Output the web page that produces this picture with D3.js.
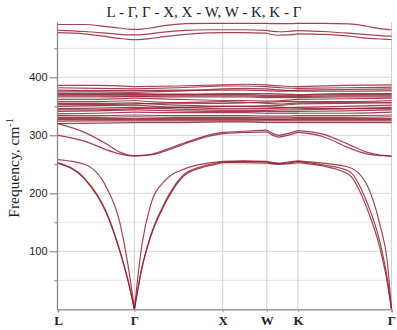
<!DOCTYPE html>
<html><head><meta charset="utf-8">
<script src="https://d3js.org/d3.v7.min.js"></script>
<style>body{margin:0;background:#fff}svg{display:block}</style>
</head><body>
<svg id="chart" width="397" height="330"></svg>
<script>
// High-symmetry points
const symLabels = ["L", "Γ", "X", "W", "K", "Γ"];
const symK = [0, 0.866, 1.866, 2.366, 2.72, 3.78];
const yTicks = [100, 200, 300, 400];
const yMinor = [50, 150, 250, 350, 450];
const title = "L - Γ, Γ - X, X - W, W - K, K - Γ";

// k grid for acoustic / low optic / top bands
const kA = [0, 0.3, 0.55, 0.7, 0.8, 0.866, 0.95, 1.05, 1.2, 1.45, 1.7, 1.866, 2.1, 2.366, 2.5, 2.6, 2.72, 3.0, 3.3, 3.5, 3.65, 3.73, 3.78];
const ac1 = [252, 225, 165, 100, 45, 0, 70, 125, 178, 233, 247, 253, 253, 252, 250, 251, 253, 247, 232, 175, 105, 48, 0];
const ac2 = [252.5, 226, 167, 102, 46, 0, 71, 127, 181, 235, 249, 254, 255, 254, 251, 252, 255, 249, 238, 185, 115, 55, 0];
const ac3 = [258, 250, 210, 150, 70, 0, 110, 180, 220, 243, 252, 255, 256, 255, 252, 254, 256, 252, 245, 215, 145, 85, 0];
const op1 = [300, 290, 275, 268, 265, 264, 265, 266, 272, 286, 298, 303, 305, 306, 297, 300, 305, 298, 278, 268, 265, 264.5, 264];
const op2 = [320, 305, 285, 271, 266, 265, 265.5, 267, 274, 288, 300, 305, 307, 309, 300, 303, 308, 302, 284, 271, 266, 265, 264];
const top1 = [491, 491, 487.5, 485, 483, 482.5, 483, 485, 489, 492.5, 493, 493, 493, 493, 492.5, 492.5, 493, 493, 492, 488, 484, 482.5, 482];
const top2 = [481, 479, 476, 474, 473, 473, 473.5, 475, 478, 481, 482, 482, 482, 481, 478.5, 479, 480.5, 479, 476, 473.5, 472, 471, 471];
const top3 = [477, 475, 470, 467, 465.5, 465, 465.5, 467, 470, 474, 476.5, 477, 477, 476, 472.5, 473, 475, 474, 471, 467.5, 466, 465.5, 465];

// coarser k grid for the dense optic bands
const kD = [0, 0.45, 0.866, 1.35, 1.866, 2.12, 2.366, 2.54, 2.72, 3.25, 3.78];
const band1  = [386, 386, 384, 385, 387, 388, 387, 385, 384, 386, 387];
const band2  = [382, 381, 380, 382, 385, 385, 384, 382, 381, 382, 383];
const band3  = [378, 377, 377, 378, 378, 378, 377, 376, 378, 379, 380];
const band4  = [372, 372, 372, 371, 372, 372, 372, 371, 370, 372, 372];
const band5  = [370, 370, 370, 370, 370, 370, 369, 369, 369, 370, 370];
const band6  = [368, 368, 368, 368, 368, 368, 367, 367, 367, 368, 368];
const band7  = [366, 366, 367, 366, 366, 366, 365, 365, 365, 366, 366];
const band8  = [362, 362, 364, 362, 360, 360, 359, 360, 362, 363, 364];
const band9  = [358, 358, 360, 356, 355, 356, 357, 358, 358, 358, 360];
const band10 = [355, 355, 356, 352, 350, 350, 351, 352, 354, 355, 356];
const band11 = [350, 351, 352, 348, 346, 346, 346, 347, 348, 350, 352];
const band12 = [346, 347, 348, 345, 343, 343, 343, 344, 344, 346, 348];
const band13 = [341, 342, 344, 342, 341, 341, 341, 341, 341, 342, 344];
const band14 = [337, 338, 340, 339, 339, 339, 338, 338, 338, 338, 340];
const band15 = [331, 331, 332, 331, 331, 331, 330, 330, 331, 331, 332];
const band16 = [329, 329, 329, 329, 329, 329, 328, 328, 329, 329, 329];
const band17 = [327, 327, 327, 327, 327, 327, 327, 327, 327, 327, 327];
const band18 = [324.5, 325, 325, 325, 325, 325, 325, 325, 325, 325, 325];
const band19 = [320, 321, 322, 322, 323, 323, 322, 322, 322, 322, 322];
const band20 = [375, 375, 374, 376, 380, 381, 380, 378, 376, 376, 377];
const band21 = [353, 353, 354, 356, 358, 357, 355, 354, 356, 357, 357];
const band22 = [334, 334, 335, 334, 334, 334, 333, 333, 334, 334, 335];
const band23 = [344, 344, 346, 348, 350, 350, 349, 348, 347, 346, 346];

const bands = [
  [kA, ac1], [kA, ac2], [kA, ac3], [kA, op1], [kA, op2],
  [kA, top1], [kA, top2], [kA, top3],
  [kD, band1], [kD, band2], [kD, band3], [kD, band4], [kD, band5], [kD, band6], [kD, band7],
  [kD, band8], [kD, band9], [kD, band10], [kD, band11], [kD, band12], [kD, band13], [kD, band14],
  [kD, band15], [kD, band16], [kD, band17], [kD, band18], [kD, band19],
  [kD, band20], [kD, band21], [kD, band22], [kD, band23]
];

const svg = d3.select("#chart");
const x = d3.scaleLinear().domain([0, 3.78]).range([58, 391.5]);
const y = d3.scaleLinear().domain([0, 500]).range([309.3, 19.3]);

// grid
const g = svg.append("g");
g.selectAll(".hm").data(yMinor).join("line")
  .attr("x1", x(0)).attr("x2", x(3.78)).attr("y1", d => y(d)).attr("y2", d => y(d))
  .attr("stroke", "#e6e6e6").attr("stroke-width", 1);
g.selectAll(".hj").data(yTicks).join("line")
  .attr("x1", x(0)).attr("x2", x(3.78)).attr("y1", d => y(d)).attr("y2", d => y(d))
  .attr("stroke", "#d8d8d8").attr("stroke-width", 1);
g.selectAll(".v").data(symK.slice(1)).join("line")
  .attr("x1", d => x(d)).attr("x2", d => x(d)).attr("y1", y(495)).attr("y2", y(0))
  .attr("stroke", "#d0d0d0").attr("stroke-width", 1);

// bands drawn per segment
const line = d3.line().x(d => x(d[0])).y(d => y(d[1])).curve(d3.curveMonotoneX);
const lg = svg.append("g").attr("fill", "none").attr("stroke", "#8e1a2d")
  .attr("stroke-width", 1.2).attr("stroke-opacity", 0.82);
bands.forEach(([kk, vv]) => {
  for (let s = 0; s < symK.length - 1; s++) {
    const pts = [];
    kk.forEach((k, i) => { if (k >= symK[s] - 1e-6 && k <= symK[s + 1] + 1e-6) pts.push([k, vv[i]]); });
    if (pts.length > 1) lg.append("path").attr("d", line(pts));
  }
});

// axes
const yAxis = d3.axisLeft(y).tickValues(yTicks).tickSize(8).tickPadding(2);
const ya = svg.append("g").attr("transform", `translate(${x(0) - 0.5},0)`).call(yAxis);
ya.select(".domain").remove();
ya.selectAll(".tick line").attr("stroke", "#777");
ya.selectAll(".tick text").attr("font-family", "Liberation Sans, Arial, sans-serif").attr("font-size", 11).attr("fill", "#222");
const yAxisMinor = d3.axisLeft(y).tickValues(yMinor).tickSize(3).tickFormat("");
const ym = svg.append("g").attr("transform", `translate(${x(0) - 0.5},0)`).call(yAxisMinor);
ym.select(".domain").remove();
ym.selectAll(".tick line").attr("stroke", "#777");
svg.append("line").attr("x1", x(0) - 0.5).attr("x2", x(0) - 0.5).attr("y1", y(495)).attr("y2", y(0) + 1)
  .attr("stroke", "#888").attr("stroke-width", 1.3);

const xAxis = d3.axisBottom(x).tickValues(symK).tickSize(3).tickFormat((d, i) => symLabels[i]).tickPadding(3);
const xa = svg.append("g").attr("transform", `translate(0,${y(0)})`).call(xAxis);
xa.select(".domain").attr("stroke", "#999").attr("stroke-width", 1.6);
xa.selectAll(".tick line").attr("stroke", "#999");
xa.selectAll(".tick text").attr("font-family", "Liberation Serif, Times New Roman, serif")
  .attr("font-size", 13).attr("font-weight", "bold").attr("fill", "#222");

// title
svg.append("text").attr("x", 204).attr("y", 17).attr("text-anchor", "middle")
  .attr("font-family", "Liberation Serif, Times New Roman, serif").attr("font-size", 15).attr("fill", "#222")
  .text(title);

// y label
const yl = svg.append("text").attr("transform", "translate(19,168) rotate(-90)").attr("text-anchor", "middle")
  .attr("font-family", "Liberation Serif, Times New Roman, serif").attr("font-size", 15.5).attr("fill", "#222");
yl.append("tspan").text("Frequency, cm");
yl.append("tspan").attr("dy", -6).attr("font-size", 10).text("-1");
</script>
</body></html>
